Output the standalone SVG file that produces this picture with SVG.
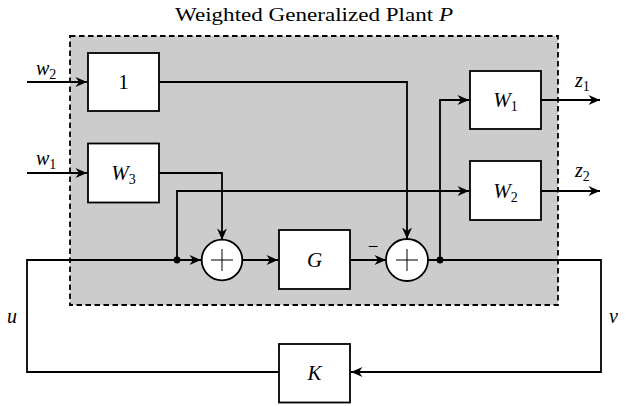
<svg xmlns="http://www.w3.org/2000/svg" width="628" height="406" viewBox="0 0 628 406" font-family="Liberation Serif, Times New Roman, serif">
<style>
.box{fill:#fff;stroke:#000;stroke-width:1.8}
.sum{fill:#fff;stroke:#000;stroke-width:1.8}
.wire{fill:none;stroke:#000;stroke-width:1.8}
.cross{stroke:#000;stroke-width:1}
text{font-family:"Liberation Serif","Times New Roman",serif;fill:#000}
.lbl{font-size:21px;font-style:italic;text-anchor:middle}
.num{font-size:21px;text-anchor:middle}
.sig{font-size:20px;font-style:italic}
.sub{font-size:14px;font-style:normal}
</style>
<defs>
<marker id="arr" viewBox="-12 -6 13 12" refX="0" refY="0" markerWidth="13" markerHeight="12" orient="auto" markerUnits="userSpaceOnUse">
<path d="M0,0 L-11.5,-5 L-8,0 L-11.5,5 Z" fill="#000"/>
</marker>
</defs>
<rect id="plant" x="70" y="36" width="488" height="269" fill="#cccccc" stroke="#000" stroke-width="1.8" stroke-dasharray="5.5,3.5"/>
<text x="175" y="21" font-size="19.5" textLength="278" lengthAdjust="spacingAndGlyphs">Weighted Generalized Plant <tspan font-style="italic">P</tspan></text>
<g id="connectors">
<path class="wire" d="M27,82 H87" marker-end="url(#arr)"/>
<path class="wire" d="M27,173 H87" marker-end="url(#arr)"/>
<path class="wire" d="M159,82 H407 V239" marker-end="url(#arr)"/>
<path class="wire" d="M159,173 H222 V240" marker-end="url(#arr)"/>
<path class="wire" d="M279,372 H27 V260 H201" marker-end="url(#arr)"/>
<path class="wire" d="M177,260 V191 H469" marker-end="url(#arr)"/>
<path class="wire" d="M242,260 H278" marker-end="url(#arr)"/>
<path class="wire" d="M350,260 H386" marker-end="url(#arr)"/>
<path class="wire" d="M428,260 H601 V372 H351" marker-end="url(#arr)"/>
<path class="wire" d="M440,260 V100 H469" marker-end="url(#arr)"/>
<path class="wire" d="M541,100 H600" marker-end="url(#arr)"/>
<path class="wire" d="M541,191 H600" marker-end="url(#arr)"/>
<circle cx="177" cy="260" r="3.4" fill="#000"/>
<circle cx="440" cy="260" r="3.4" fill="#000"/>
</g>
<g id="one"><rect class="box" x="88" y="53" width="71" height="58"/><text class="num" x="123.5" y="89">1</text></g>
<g id="W3"><rect class="box" x="88" y="143.5" width="71" height="59"/><text class="lbl" x="123.5" y="180">W<tspan class="sub" dy="4">3</tspan></text></g>
<g id="W1"><rect class="box" x="470" y="71" width="71" height="58"/><text class="lbl" x="505.5" y="107">W<tspan class="sub" dy="4">1</tspan></text></g>
<g id="W2"><rect class="box" x="470" y="161" width="71" height="59"/><text class="lbl" x="505.5" y="198">W<tspan class="sub" dy="4">2</tspan></text></g>
<g id="G"><rect class="box" x="279" y="230" width="71" height="59"/><text class="lbl" x="314.5" y="267">G</text></g>
<g id="K"><rect class="box" x="279" y="344" width="71" height="58.5"/><text class="lbl" x="314.5" y="380">K</text></g>
<g id="sum1"><circle class="sum" cx="222" cy="260" r="20.3"/><path class="cross" d="M211,260 H233 M222,249 V271"/></g>
<g id="sum2"><circle class="sum" cx="407" cy="260" r="21"/><path class="cross" d="M396,260 H418 M407,249 V271"/></g>
<g id="labels">
<text class="sig" x="36" y="75">w<tspan class="sub" dy="4">2</tspan></text>
<text class="sig" x="36" y="165">w<tspan class="sub" dy="4">1</tspan></text>
<text class="sig" x="575" y="87">z<tspan class="sub" dy="4">1</tspan></text>
<text class="sig" x="575" y="177">z<tspan class="sub" dy="4">2</tspan></text>
<text class="sig" x="7" y="323">u</text>
<text class="sig" x="609" y="323">v</text>
<text x="373" y="253" font-size="19" text-anchor="middle">−</text>
</g>
</svg>
